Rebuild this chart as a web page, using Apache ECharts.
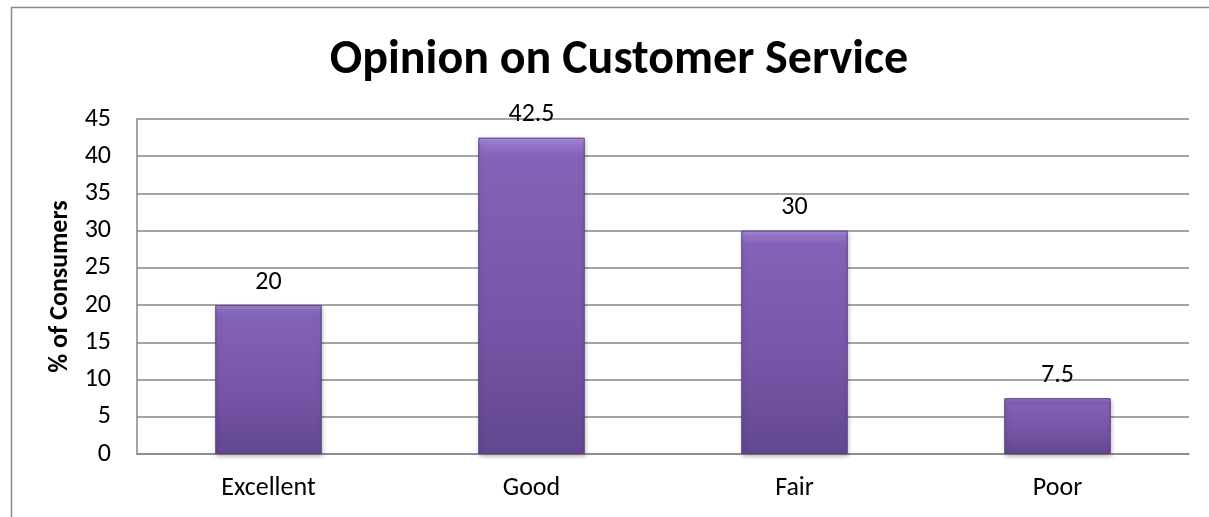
<!DOCTYPE html>
<html>
<head>
<meta charset="utf-8">
<script src="https://cdn.jsdelivr.net/npm/echarts@6/dist/echarts.min.js"></script>
<style>
  html, body { margin: 0; padding: 0; background: #ffffff; overflow: hidden; }
  #chart { width: 1209px; height: 517px; }
</style>
</head>
<body>
<div id="chart"></div>
<script>
// Survey results: share of consumers per rating
const categories = ['Excellent', 'Good', 'Fair', 'Poor'];
const percentValues = [20, 42.5, 30, 7.5];
const yTicks = { min: 0, max: 45, interval: 5 };

const FONT = 'Carlito, Lato, "Open Sans", sans-serif';

const chart = echarts.init(document.getElementById('chart'), null, { renderer: 'canvas' });

const barFill = new echarts.graphic.LinearGradient(0, 0, 0, 1, [
  { offset: 0, color: '#ad90de' },
  { offset: 0.025, color: '#9373c8' },
  { offset: 0.06, color: '#8363b7' },
  { offset: 0.6, color: '#7555a6' },
  { offset: 1, color: '#634790' }
]);

chart.setOption({
  animation: false,
  backgroundColor: '#ffffff',
  title: {
    text: 'Opinion on Customer Service',
    left: 614,
    textAlign: 'center',
    top: 32,
    textStyle: { fontFamily: FONT, fontSize: 48, fontWeight: 'bold', color: '#000000' }
  },
  graphic: [{
    type: 'polyline',
    silent: true,
    shape: { points: [[11.5, 517], [11.5, 7.5], [1209, 7.5]] },
    style: { fill: null, stroke: '#8a8a8a', lineWidth: 1.5 }
  }],
  grid: { left: 137, right: 20, top: 119, bottom: 63, containLabel: false },
  xAxis: {
    type: 'category',
    data: categories,
    axisLine: { show: true, lineStyle: { color: '#868686', width: 1.5 } },
    axisTick: { show: false },
    axisLabel: { color: '#000000', fontFamily: FONT, fontSize: 26, margin: 21 }
  },
  yAxis: {
    type: 'value',
    min: yTicks.min,
    max: yTicks.max,
    interval: yTicks.interval,
    name: '% of Consumers',
    nameLocation: 'middle',
    nameGap: 61,
    nameRotate: 90,
    nameTextStyle: { fontFamily: FONT, fontSize: 26, fontWeight: 'bold', color: '#000000' },
    axisLine: { show: true, lineStyle: { color: '#868686', width: 1.5 } },
    axisTick: { show: false },
    axisLabel: { color: '#000000', fontFamily: FONT, fontSize: 26, margin: 26 },
    splitLine: { show: true, lineStyle: { color: '#868686', width: 1.5 } }
  },
  series: [{
    type: 'bar',
    data: percentValues,
    barWidth: '40.5%',
    itemStyle: {
      color: barFill,
      borderColor: '#5a4183',
      borderWidth: 1,
      shadowColor: 'rgba(0,0,0,0.25)',
      shadowBlur: 4,
      shadowOffsetX: 1,
      shadowOffsetY: 2
    },
    label: {
      show: true,
      position: 'top',
      distance: 10,
      color: '#000000',
      fontFamily: FONT,
      fontSize: 26
    }
  }]
});
</script>
</body>
</html>
